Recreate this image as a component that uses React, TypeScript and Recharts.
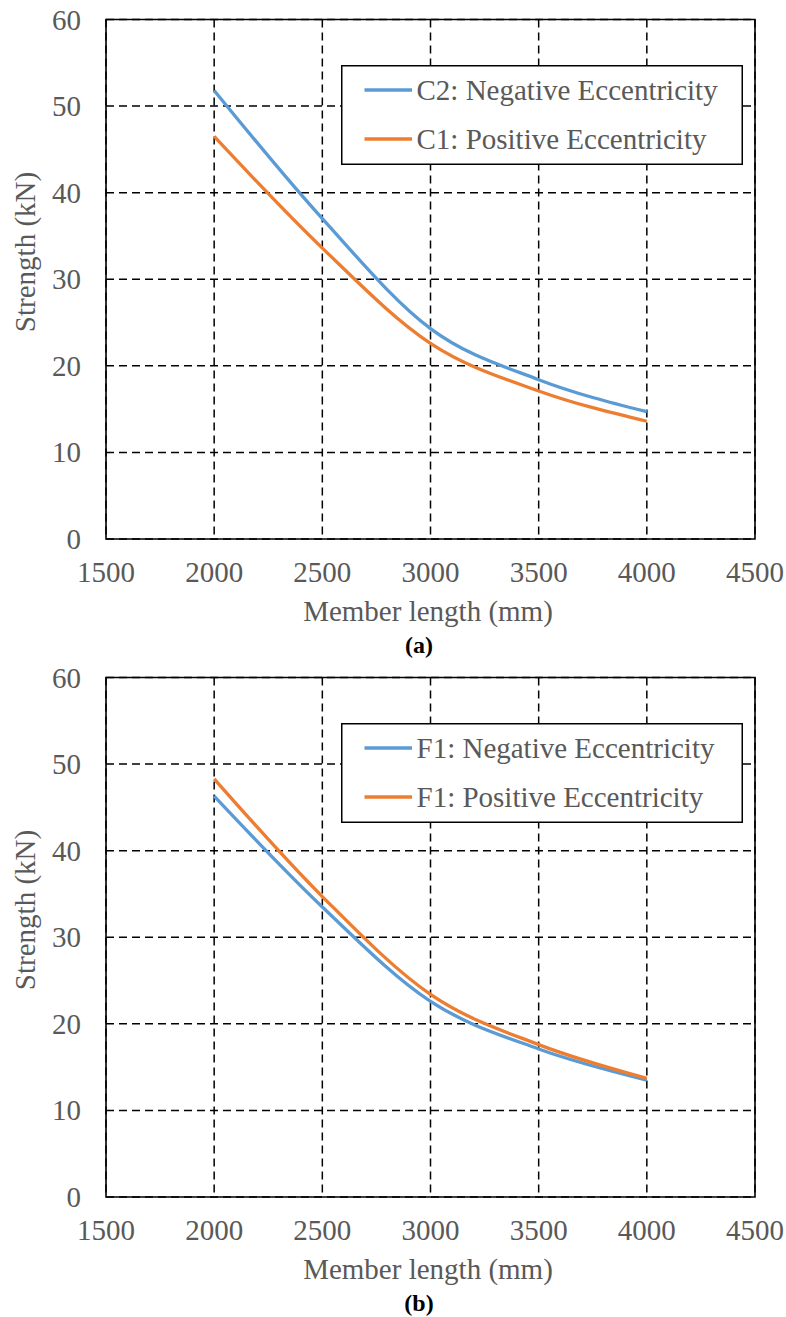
import React from 'react';
import { LineChart, Line, XAxis, YAxis, CartesianGrid, ReferenceArea, Legend } from 'recharts';

const lengths = [2000, 2500, 3000, 3500, 4000];
const c2Negative = [51.8, 37.0, 24.3, 18.4, 14.7];
const c1Positive = [46.5, 33.6, 22.6, 17.1, 13.6];
const f1Negative = [46.3, 33.5, 22.6, 17.1, 13.5];
const f1Positive = [48.3, 34.7, 23.4, 17.6, 13.7];
const xTicks = [1500, 2000, 2500, 3000, 3500, 4000, 4500];
const yTicks = [0, 10, 20, 30, 40, 50, 60];

const BLUE = '#5B9BD5';
const ORANGE = '#ED7D31';
const TEXT = '#595959';
const FONT = 'Liberation Serif, Times New Roman, serif';
const textStyle = { fontFamily: FONT, fontSize: 29, fill: TEXT };

type Series = { key: string; name: string; color: string; values: number[] };

const buildData = (series: Series[]) =>
  lengths.map((len, i) => {
    const row: Record<string, number> = { length: len };
    series.forEach((s) => {
      row[s.key] = s.values[i];
    });
    return row;
  });

const panelA: Series[] = [
  { key: 'c2n', name: 'C2: Negative Eccentricity', color: BLUE, values: c2Negative },
  { key: 'c1p', name: 'C1: Positive Eccentricity', color: ORANGE, values: c1Positive },
];
const panelB: Series[] = [
  { key: 'f1n', name: 'F1: Negative Eccentricity', color: BLUE, values: f1Negative },
  { key: 'f1p', name: 'F1: Positive Eccentricity', color: ORANGE, values: f1Positive },
];

function XTick(props: any) {
  const { x, y, payload } = props;
  return (
    <text x={x} y={y + 42.5} textAnchor="middle" style={textStyle}>
      {payload.value}
    </text>
  );
}

function YTick(props: any) {
  const { x, y, payload } = props;
  return (
    <text x={x + 81 - x} y={y + 10} textAnchor="end" style={textStyle}>
      {payload.value}
    </text>
  );
}

function LegendBox({ series }: { series: Series[] }) {
  return (
    <svg width={402} height={100} style={{ display: 'block' }}>
      <rect x={0.75} y={0.75} width={400.5} height={98.5} fill="#fff" stroke="#000" strokeWidth={1.5} />
      {series.map((s, i) => (
        <g key={s.key}>
          <line x1={23.5} x2={71} y1={25 + i * 49} y2={25 + i * 49} stroke={s.color} strokeWidth={3.5} />
          <text x={75.5} y={35 + i * 49} style={textStyle}>
            {s.name}
          </text>
        </g>
      ))}
    </svg>
  );
}

function Panel({ top, series, caption }: { top: number; series: Series[]; caption: string }) {
  const data = buildData(series);
  return (
    <div style={{ position: 'absolute', left: 0, top, width: 786, height: 659 }}>
      <LineChart width={786} height={658} data={data} margin={{ top: 19.5, right: 31, bottom: 29, left: 0 }}>
        <CartesianGrid stroke="#000" strokeWidth={1.5} strokeDasharray="8 5" />
        <XAxis
          type="number"
          dataKey="length"
          domain={[1500, 4500]}
          ticks={xTicks}
          interval={0}
          height={90}
          axisLine={false}
          tickLine={false}
          tickSize={0}
          tickMargin={0}
          tick={<XTick />}
          label={() => (
            <text x={428} y={620.5} textAnchor="middle" style={textStyle}>
              Member length (mm)
            </text>
          )}
        />
        <YAxis
          type="number"
          domain={[0, 60]}
          ticks={yTicks}
          interval={0}
          width={106}
          axisLine={false}
          tickLine={false}
          tickSize={0}
          tickMargin={0}
          tick={<YTick />}
          label={() => (
            <text x={34.5} y={252} textAnchor="middle" style={textStyle} transform="rotate(-90, 34.5, 252)">
              Strength (kN)
            </text>
          )}
        />
        <ReferenceArea x1={1500} x2={4500} y1={0} y2={60} fill="none" fillOpacity={0} stroke="#000" strokeWidth={1.6} />
        {series.map((s) => (
          <Line
            key={s.key}
            type="monotone"
            dataKey={s.key}
            name={s.name}
            stroke={s.color}
            strokeWidth={3.3}
            dot={false}
            activeDot={false}
            isAnimationActive={false}
          />
        ))}
        <Legend
          layout="vertical"
          align="center"
          verticalAlign="middle"
          wrapperStyle={{ left: 341, top: 65, width: 402, height: 100 }}
          content={() => <LegendBox series={series} />}
        />
      </LineChart>
      <div
        style={{
          position: 'absolute',
          left: 0,
          top: 633,
          width: 838,
          textAlign: 'center',
          fontFamily: FONT,
          fontWeight: 'bold',
          fontSize: 24,
          lineHeight: '24px',
          color: '#000',
        }}
      >
        {caption}
      </div>
    </div>
  );
}

export default function App() {
  return (
    <div style={{ position: 'absolute', left: 0, top: 0, width: 786, height: 1317, background: '#fff' }}>
      <Panel top={0} series={panelA} caption="(a)" />
      <Panel top={658} series={panelB} caption="(b)" />
    </div>
  );
}
